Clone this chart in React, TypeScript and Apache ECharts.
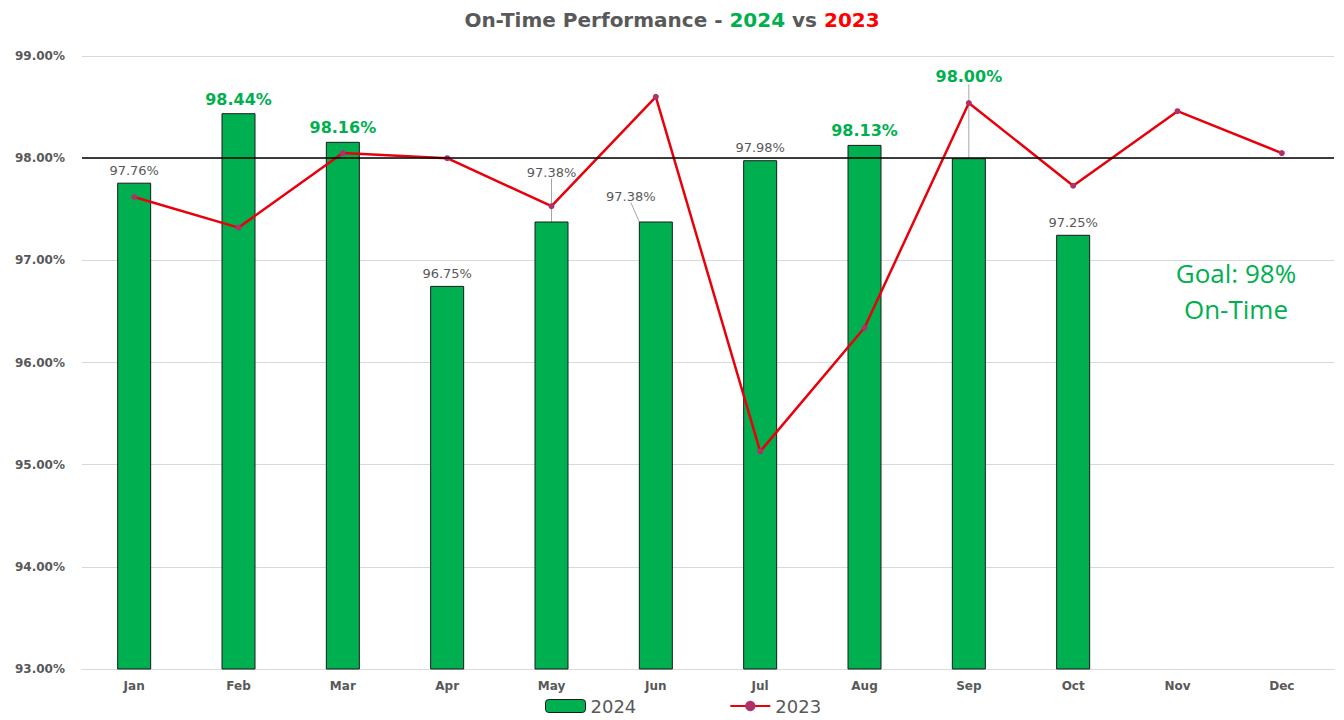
import React, { useEffect, useRef } from "react";
import * as echarts from "echarts";

const months = ["Jan", "Feb", "Mar", "Apr", "May", "Jun", "Jul", "Aug", "Sep", "Oct", "Nov", "Dec"];
const values2024 = [97.76, 98.44, 98.16, 96.75, 97.38, 97.38, 97.98, 98.13, 98.0, 97.25, null, null];
const values2023 = [97.62, 97.32, 98.05, 98.0, 97.53, 98.6, 95.13, 96.34, 98.54, 97.73, 98.46, 98.05];
const goal = 98;
const yTicks = { min: 93, max: 99, interval: 1 };
const goalLines = ["Goal: 98%", "On-Time"];
// months whose 2024 label is highlighted in green
const highlighted = [1, 2, 7, 8];
// label offsets for the 2024 data labels [dx, dy]
const labelShift: Record<number, [number, number]> = { 4: [0, -37], 5: [-25, -13], 8: [0, -68] };

const GREEN = "#00B050";
const GREY = "#595959";
const FONT = "'DejaVu Sans', Verdana, sans-serif";
const GOAL_FONT = "'Open Sans', 'Noto Sans', sans-serif";

export default function App() {
  const ref = useRef<HTMLDivElement>(null);
  useEffect(() => {
    if (!ref.current) return;
    const chart = echarts.init(ref.current, undefined, { renderer: "svg" });
    chart.setOption({
      animation: false,
      textStyle: { fontFamily: FONT },
      title: {
        text: "{a|On-Time Performance - }{g|2024}{a| vs }{r|2023}",
        left: "center",
        top: 5,
        textStyle: {
          rich: {
            a: { fontSize: 20, fontWeight: "bold", color: GREY, fontFamily: FONT },
            g: { fontSize: 20, fontWeight: "bold", color: GREEN, fontFamily: FONT },
            r: { fontSize: 20, fontWeight: "bold", color: "#FF0000", fontFamily: FONT },
          },
        },
      },
      legend: {
        bottom: 0,
        left: 540,
        itemWidth: 40,
        itemHeight: 13,
        itemGap: 93,
        textStyle: { fontSize: 18, color: GREY, fontFamily: FONT },
        data: [
          { name: "2024", itemStyle: { color: GREEN, borderColor: "#1a1a1a", borderWidth: 1 } },
          { name: "2023" },
        ],
      },
      grid: { left: 82, right: 10, top: 56, bottom: 51 },
      xAxis: {
        type: "category",
        data: months,
        axisTick: { show: false },
        axisLine: { show: true, lineStyle: { color: "#d9d9d9" } },
        axisLabel: { color: GREY, fontWeight: "bold", fontSize: 12, margin: 11, fontFamily: FONT },
      },
      yAxis: {
        type: "value",
        min: yTicks.min,
        max: yTicks.max,
        interval: yTicks.interval,
        axisLine: { show: false },
        axisTick: { show: false },
        splitLine: { lineStyle: { color: "#d9d9d9" } },
        axisLabel: {
          color: GREY,
          fontWeight: "bold",
          fontSize: 12,
          margin: 17,
          fontFamily: FONT,
          formatter: (v: number) => v.toFixed(2) + "%",
        },
      },
      series: [
        {
          name: "2024",
          type: "bar",
          barWidth: 34,
          data: values2024.map((v, i) => {
            if (v == null) return null;
            const big = highlighted.includes(i);
            return {
              value: v,
              label: big
                ? { fontSize: 16, fontWeight: "bold", color: GREEN, distance: 6 }
                : { fontSize: 13, color: GREY, distance: 6 },
              labelLine: { show: !!labelShift[i] },
            };
          }),
          itemStyle: { color: GREEN, borderColor: "#1a1a1a", borderWidth: 1 },
          label: {
            show: true,
            position: "top",
            fontFamily: FONT,
            formatter: (p: any) => Number(p.value).toFixed(2) + "%",
          },
          labelLine: { show: false, lineStyle: { color: "#a6a6a6", width: 1 } },
          labelLayout: (p: any) => {
            const s = labelShift[p.dataIndex];
            return s ? { dx: s[0], dy: s[1] } : {};
          },
          markLine: {
            silent: true,
            symbol: "none",
            label: { show: false },
            lineStyle: { color: "#000000", width: 1.5, type: "solid" },
            data: [{ yAxis: goal }],
          },
          z: 2,
        },
        {
          name: "2023",
          type: "line",
          data: values2023,
          symbol: "circle",
          symbolSize: 6,
          itemStyle: { color: "#B0306A" },
          lineStyle: { color: "#E8000B", width: 2.5 },
          z: 3,
        },
      ],
      graphic: goalLines.map((t, i) => ({
        type: "text",
        x: 1236,
        y: 273 + i * 36,
        style: {
          text: t,
          align: "center",
          verticalAlign: "middle",
          fill: GREEN,
          fontSize: 26,
          fontFamily: GOAL_FONT,
        },
      })),
    });
    return () => chart.dispose();
  }, []);
  return <div ref={ref} style={{ width: 1344, height: 720, position: "absolute", left: 0, top: 0 }} />;
}
